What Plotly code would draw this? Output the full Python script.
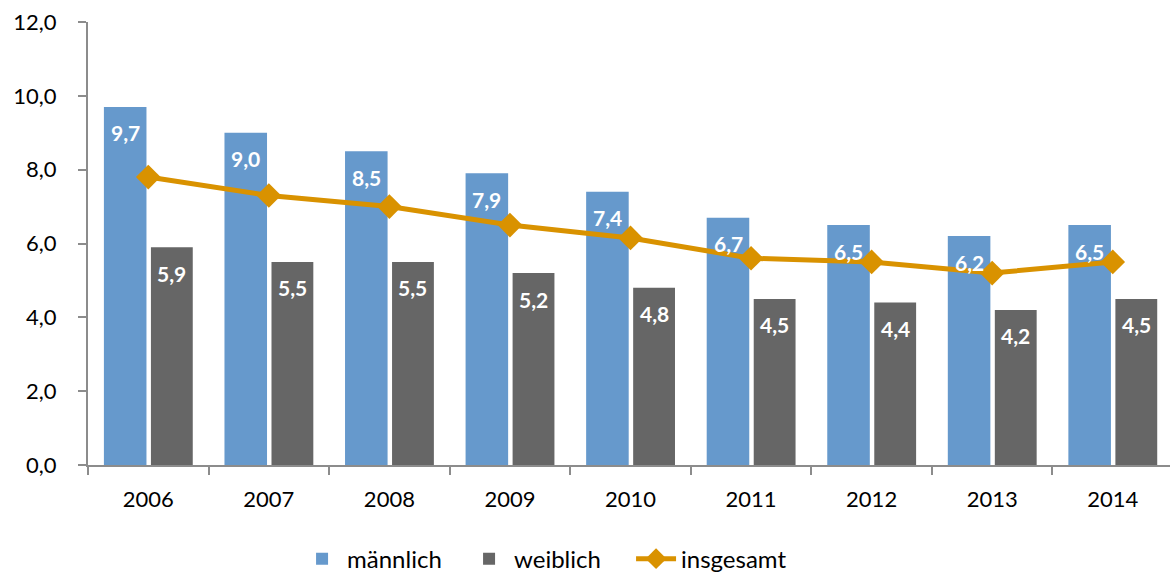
import plotly.graph_objects as go

years = ["2006", "2007", "2008", "2009", "2010", "2011", "2012", "2013", "2014"]
maennlich = [9.7, 9.0, 8.5, 7.9, 7.4, 6.7, 6.5, 6.2, 6.5]
weiblich = [5.9, 5.5, 5.5, 5.2, 4.8, 4.5, 4.4, 4.2, 4.5]
insgesamt = [7.8, 7.3, 7.0, 6.5, 6.15, 5.6, 5.5, 5.2, 5.5]

BLUE = "#6699CC"
GRAY = "#666666"
ORANGE = "#D99200"
AXIS = "#8C8C8C"
FONT = "Lato"

fig = go.Figure()
fig.add_trace(go.Bar(name="männlich", x=years, y=maennlich, marker_color=BLUE,
                     offset=-0.368, width=0.353, marker_line_width=0))
fig.add_trace(go.Bar(name="weiblich", x=years, y=weiblich, marker_color=GRAY,
                     offset=0.022, width=0.347, marker_line_width=0))
fig.add_trace(go.Scatter(name="insgesamt", x=years, y=insgesamt, mode="lines+markers",
                         line=dict(color=ORANGE, width=5),
                         marker=dict(symbol="diamond", size=19, color=ORANGE)))

annotations = []
for vals, shift in ((maennlich, -23), (weiblich, 23.5)):
    for i, v in enumerate(vals):
        annotations.append(dict(x=i, y=v, xref="x", yref="y", text=f"{v:.1f}".replace(".", ","),
                                showarrow=False, xshift=shift, yshift=-26,
                                font=dict(family=FONT, size=21, color="white", weight="bold"),
                                xanchor="center", yanchor="middle"))

fig.update_layout(
    width=1170, height=577,
    margin=dict(l=88, r=0, t=22, b=112, autoexpand=False),
    paper_bgcolor="white", plot_bgcolor="white",
    barmode="overlay",
    separators=",.",
    font=dict(family=FONT, size=22, color="black"),
    annotations=annotations,
    showlegend=True,
    legend=dict(orientation="h", xref="container", yref="container",
                x=0.468, xanchor="center", y=0.031, yanchor="middle",
                font=dict(family=FONT, size=24), itemwidth=40, traceorder="normal",
                entrywidth=112, entrywidthmode="pixels"),
    xaxis=dict(type="category", range=[-0.5, 8.475], showline=True, linecolor=AXIS, linewidth=2,
               ticks="outside", ticklen=8, tickwidth=2, tickcolor=AXIS, tickson="boundaries",
               showgrid=False, ticklabelstandoff=14, tickfont=dict(size=22), automargin=False),
    yaxis=dict(range=[0, 12], dtick=2, tickformat=".1f", showline=True, linecolor=AXIS, linewidth=2,
               ticks="outside", ticklen=8, tickwidth=2, tickcolor=AXIS, showgrid=False,
               zeroline=False, ticklabelstandoff=17, tickfont=dict(size=22), automargin=False),
)

fig.write_html("out.html", config={"displayModeBar": False},
               post_script="document.body.style.margin='0px';")
